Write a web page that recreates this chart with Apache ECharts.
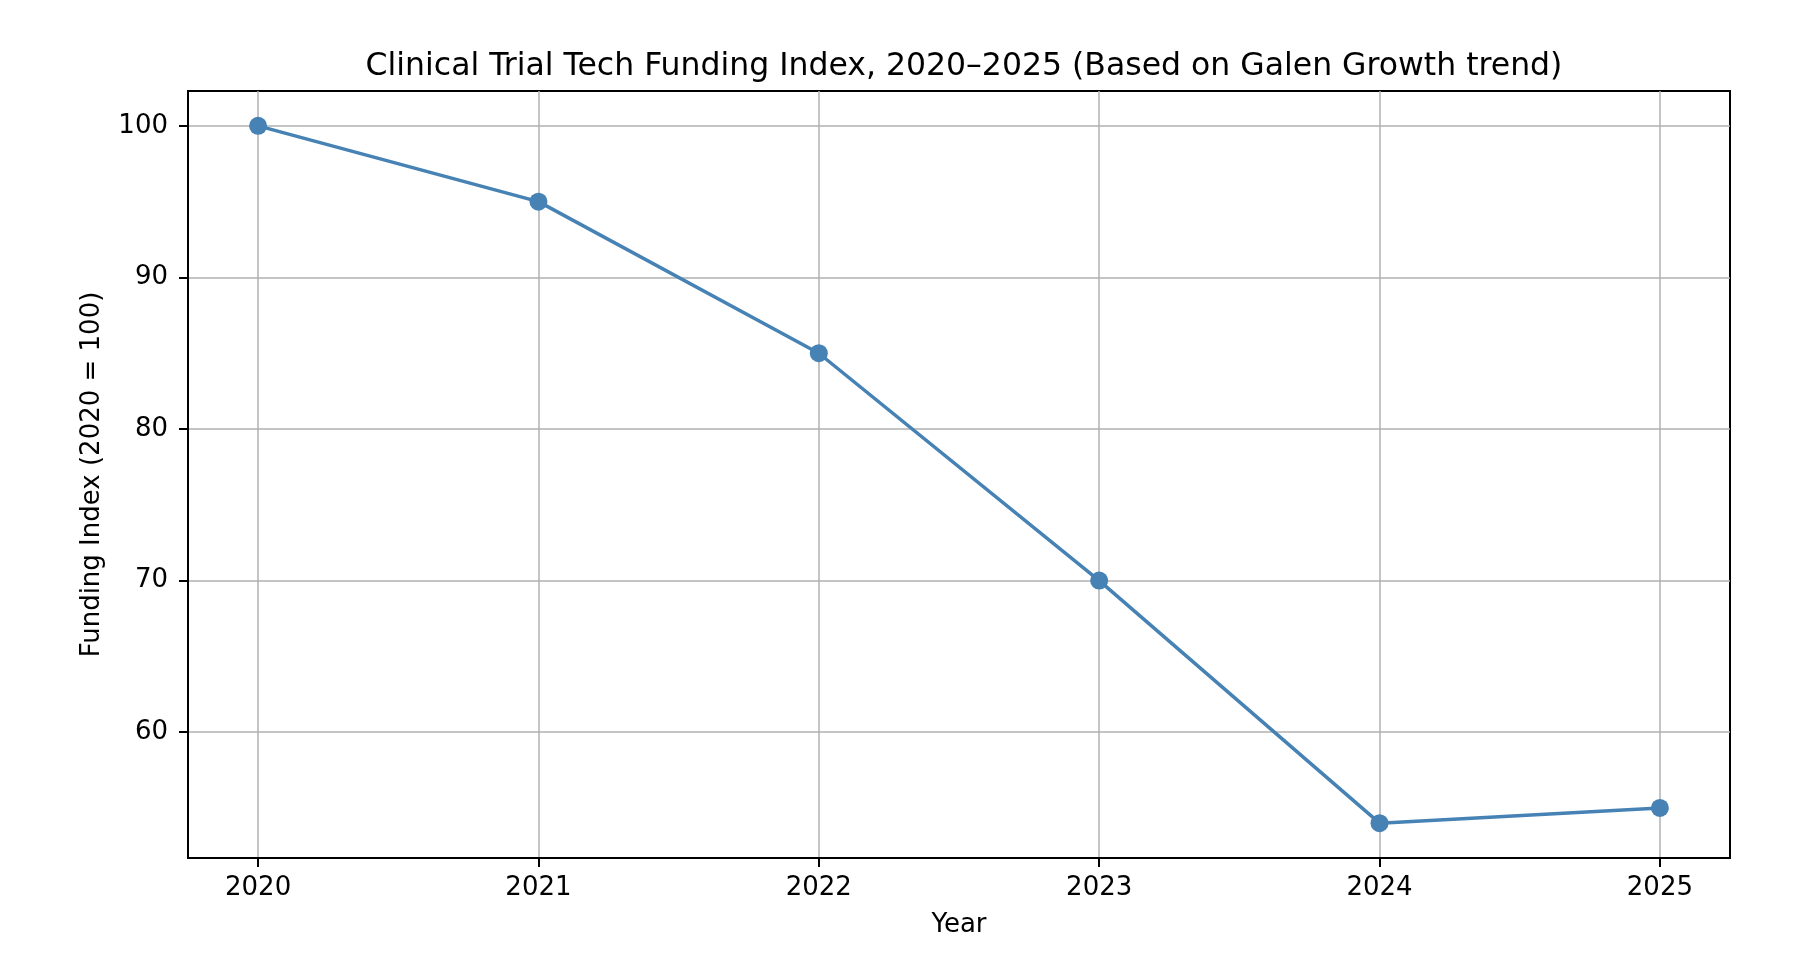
<!DOCTYPE html>
<html>
<head>
<meta charset="utf-8">
<script src="https://cdn.jsdelivr.net/npm/echarts@6/dist/echarts.min.js"></script>
<style>html,body{margin:0;padding:0;background:#fff;}#c{width:1814px;height:954px;}</style>
</head>
<body>
<div id="c"></div>
<script>
const years = [2020, 2021, 2022, 2023, 2024, 2025];
const fundingIndex = [100, 95, 85, 70, 54, 55];
const yTicks = [60, 70, 80, 90, 100];
const titleText = 'Clinical Trial Tech Funding Index, 2020–2025 (Based on Galen Growth trend)';

const chart = echarts.init(document.getElementById('c'), null, {renderer: 'canvas'});
const font = 'DejaVu Sans';
chart.setOption({
  backgroundColor: '#ffffff',
  animation: false,
  title: {
    text: titleText, left: 959, textAlign: 'center', top: 46,
    textStyle: {fontFamily: font, fontSize: 31.5, fontWeight: 'normal', color: '#000'}
  },
  grid: {left: 188, right: 84, top: 91, bottom: 96, containLabel: false, show: true, borderColor: '#000', borderWidth: 2},
  xAxis: {
    type: 'value', min: 2019.75, max: 2025.25,
    name: 'Year', nameLocation: 'middle', nameGap: 54,
    nameTextStyle: {fontFamily: font, fontSize: 26, color: '#000'},
    axisLine: {show: true, onZero: false, lineStyle: {color: '#000', width: 2}},
    axisTick: {show: true, length: 9, lineStyle: {color: '#000', width: 2}, customValues: years},
    axisLabel: {fontFamily: font, fontSize: 26, color: '#000', margin: 17, customValues: years, formatter: v => String(v)},
    splitLine: {show: true, lineStyle: {color: '#b0b0b0', width: 1.5}}
  },
  yAxis: {
    type: 'value', min: 51.7, max: 102.3,
    name: 'Funding Index (2020 = 100)', nameLocation: 'middle', nameGap: 83,
    nameTextStyle: {fontFamily: font, fontSize: 26, color: '#000'},
    axisLine: {show: true, onZero: false, lineStyle: {color: '#000', width: 2}},
    axisTick: {show: true, length: 9, lineStyle: {color: '#000', width: 2}, customValues: yTicks},
    axisLabel: {fontFamily: font, fontSize: 26, color: '#000', margin: 20, customValues: yTicks, formatter: v => String(v)},
    splitLine: {show: true, lineStyle: {color: '#b0b0b0', width: 1.5}}
  },
  series: [{
    type: 'line',
    data: years.map((y, i) => [y, fundingIndex[i]]),
    symbol: 'circle', symbolSize: 18,
    lineStyle: {color: '#4682b4', width: 3.5},
    itemStyle: {color: '#4682b4'}
  }]
});
</script>
</body>
</html>
